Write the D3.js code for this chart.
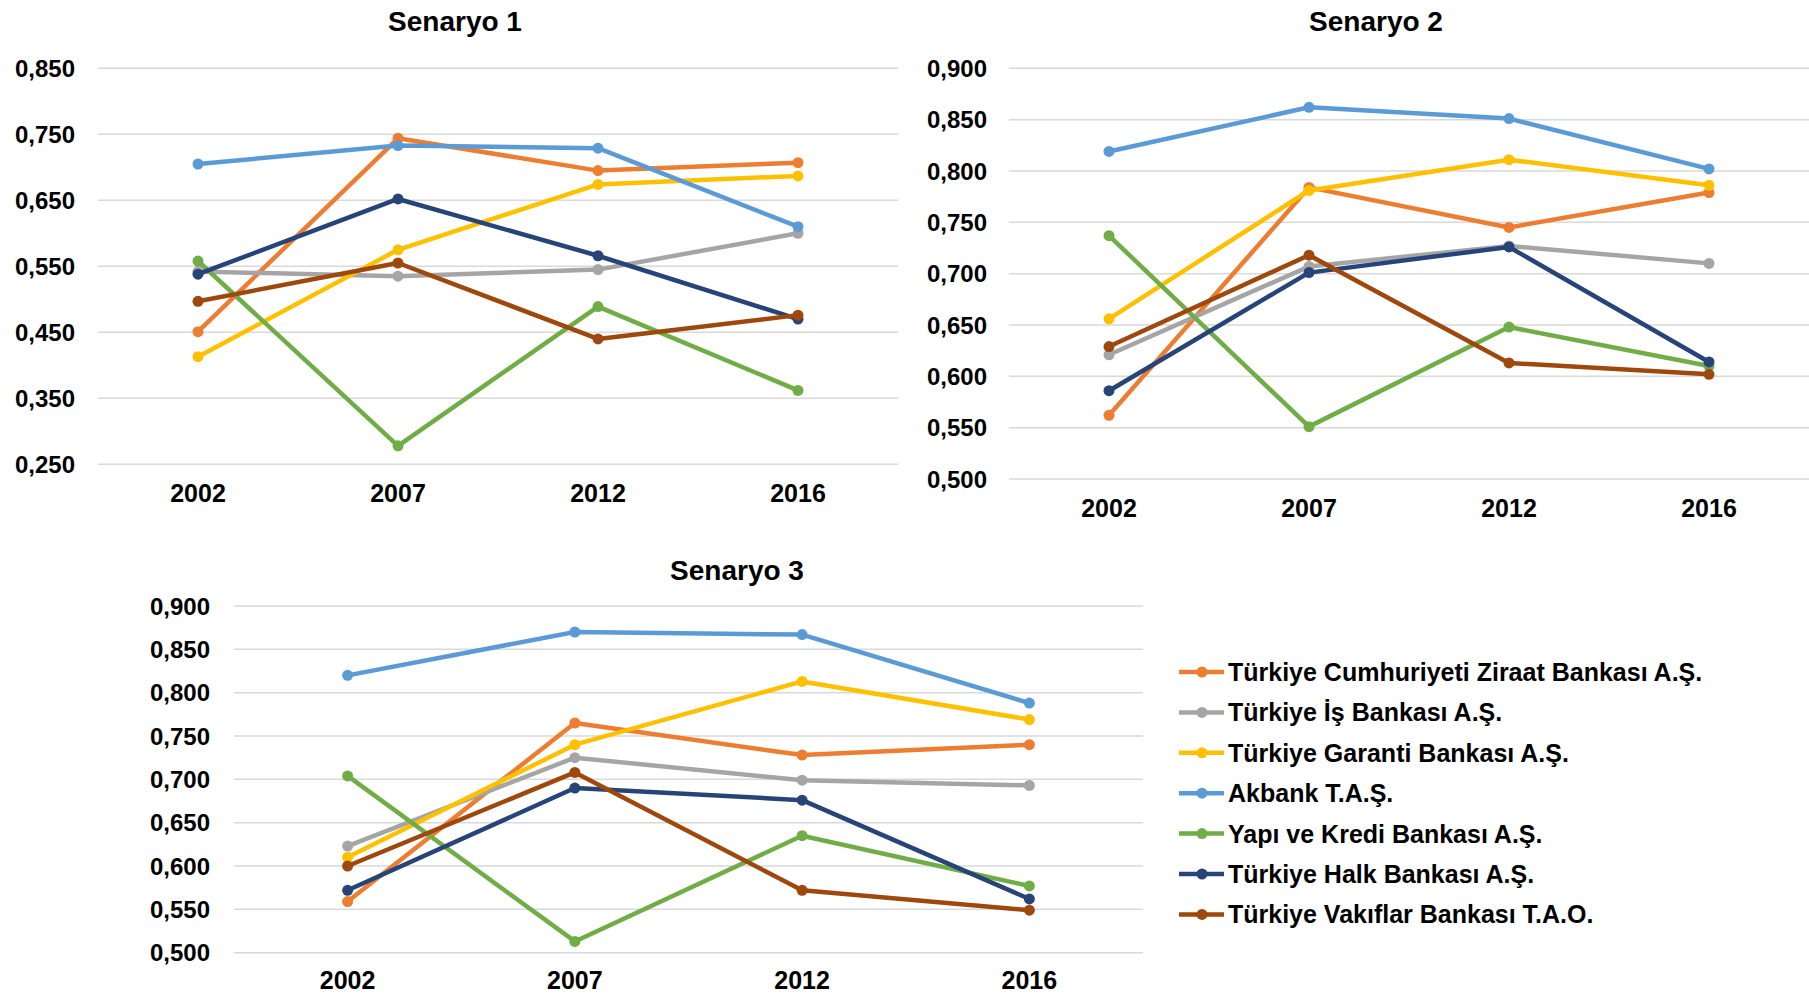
<!DOCTYPE html>
<html>
<head>
<meta charset="utf-8">
<script src="https://cdn.jsdelivr.net/npm/d3@7"></script>
<style>
  body { margin: 0; background: #fff; }
  svg { display: block; font-family: "Liberation Sans", Arial, sans-serif; }
</style>
</head>
<body>
<div id="chart"></div>
<script>
var years = ["2002", "2007", "2012", "2016"];
var banks = [
  "Türkiye Cumhuriyeti Ziraat Bankası A.Ş.",
  "Türkiye İş Bankası A.Ş.",
  "Türkiye Garanti Bankası A.Ş.",
  "Akbank T.A.Ş.",
  "Yapı ve Kredi Bankası A.Ş.",
  "Türkiye Halk Bankası A.Ş.",
  "Türkiye Vakıflar Bankası T.A.O."
];
var colors = ["#ED7D31", "#A5A5A5", "#FFC000", "#5B9BD5", "#70AD47", "#264478", "#9E480E"];

// one row per bank, one value per year
var senaryo1 = [
  [0.451, 0.744, 0.695, 0.707],
  [0.542, 0.535, 0.545, 0.600],
  [0.413, 0.575, 0.674, 0.687],
  [0.705, 0.733, 0.729, 0.610],
  [0.558, 0.278, 0.489, 0.362],
  [0.538, 0.652, 0.566, 0.470],
  [0.497, 0.555, 0.440, 0.476]
];
var senaryo2 = [
  [0.562, 0.784, 0.745, 0.779],
  [0.621, 0.707, 0.727, 0.710],
  [0.656, 0.781, 0.811, 0.786],
  [0.819, 0.862, 0.851, 0.802],
  [0.737, 0.551, 0.648, 0.610],
  [0.586, 0.701, 0.726, 0.614],
  [0.629, 0.718, 0.613, 0.602]
];
var senaryo3 = [
  [0.559, 0.765, 0.728, 0.740],
  [0.623, 0.725, 0.699, 0.693],
  [0.610, 0.740, 0.813, 0.769],
  [0.820, 0.870, 0.867, 0.788],
  [0.704, 0.513, 0.635, 0.577],
  [0.572, 0.690, 0.676, 0.562],
  [0.600, 0.708, 0.572, 0.549]
];
var ticks1 = [0.25, 0.35, 0.45, 0.55, 0.65, 0.75, 0.85];
var ticks2 = [0.5, 0.55, 0.6, 0.65, 0.7, 0.75, 0.8, 0.85, 0.9];

var width = 1809, height = 997;

var svg = d3.select("#chart").append("svg")
  .attr("width", width)
  .attr("height", height);

var fmt = d3.formatLocale({decimal: ",", thousands: ".", grouping: [3], currency: ["", ""]}).format(".3f");

var panels = [
  {title: "Senaryo 1", values: senaryo1, ticks: ticks1, domain: [0.25, 0.85],
   x: [98, 898], y: [464.3, 68.3], labelX: 75, titleX: 455, titleY: 31, yearY: 502},
  {title: "Senaryo 2", values: senaryo2, ticks: ticks2, domain: [0.5, 0.9],
   x: [1009, 1809], y: [479, 68.3], labelX: 987, titleX: 1376, titleY: 31, yearY: 517},
  {title: "Senaryo 3", values: senaryo3, ticks: ticks2, domain: [0.5, 0.9],
   x: [234, 1143], y: [952.7, 606], labelX: 210, titleX: 737, titleY: 580, yearY: 989}
];

panels.forEach(function(p) {
  var g = svg.append("g");

  var x = d3.scalePoint()
    .domain(years)
    .range(p.x)
    .padding(0.5);

  var y = d3.scaleLinear()
    .domain(p.domain)
    .range(p.y);

  // gridlines
  g.selectAll(".grid")
    .data(p.ticks)
    .enter().append("line")
    .attr("x1", p.x[0])
    .attr("x2", p.x[1])
    .attr("y1", function(d) { return y(d); })
    .attr("y2", function(d) { return y(d); })
    .style("stroke", "#D9D9D9")
    .style("stroke-width", 1.5);

  g.selectAll(".ylab")
    .data(p.ticks)
    .enter().append("text")
    .attr("x", p.labelX)
    .attr("y", function(d) { return y(d); })
    .attr("dy", "0.36em")
    .attr("text-anchor", "end")
    .style("font-size", "24px")
    .style("font-weight", "bold")
    .text(function(d) { return fmt(d); });

  g.selectAll(".xlab")
    .data(years)
    .enter().append("text")
    .attr("x", function(d) { return x(d); })
    .attr("y", p.yearY)
    .attr("text-anchor", "middle")
    .style("font-size", "25px")
    .style("font-weight", "bold")
    .text(function(d) { return d; });

  g.append("text")
    .attr("x", p.titleX)
    .attr("y", p.titleY)
    .attr("text-anchor", "middle")
    .style("font-size", "28px")
    .style("font-weight", "bold")
    .text(p.title);

  var line = d3.line()
    .x(function(d, i) { return x(years[i]); })
    .y(function(d) { return y(d); });

  p.values.forEach(function(vals, k) {
    var s = g.append("g");
    s.append("path")
      .datum(vals)
      .attr("d", line)
      .style("fill", "none")
      .style("stroke", colors[k])
      .style("stroke-width", 4.5)
      .style("stroke-linejoin", "round");
    s.selectAll("circle")
      .data(vals)
      .enter().append("circle")
      .attr("cx", function(d, i) { return x(years[i]); })
      .attr("cy", function(d) { return y(d); })
      .attr("r", 5.5)
      .style("fill", colors[k]);
  });
});

// legend
var legend = svg.append("g");
var item = legend.selectAll(".item")
  .data(banks)
  .enter().append("g")
  .attr("transform", function(d, i) { return "translate(0," + (672 + i * 40.4) + ")"; });

item.append("line")
  .attr("x1", 1179)
  .attr("x2", 1224)
  .style("stroke", function(d, i) { return colors[i]; })
  .style("stroke-width", 4.5);

item.append("circle")
  .attr("cx", 1202)
  .attr("r", 5.5)
  .style("fill", function(d, i) { return colors[i]; });

item.append("text")
  .attr("x", 1228)
  .attr("dy", "0.36em")
  .style("font-size", "25px")
  .style("font-weight", "bold")
  .text(function(d) { return d; });
</script>
</body>
</html>
